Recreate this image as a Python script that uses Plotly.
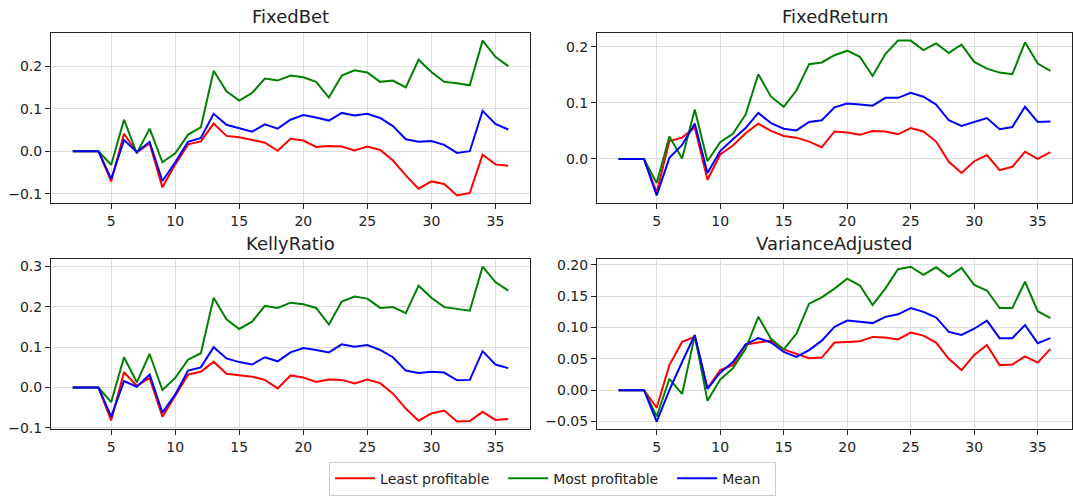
import plotly.graph_objects as go

x = list(range(2, 37))

titles = ["FixedBet", "FixedReturn", "KellyRatio", "VarianceAdjusted"]

fixedbet_least = [0, 0, 0, -0.071, 0.041, -0.003, 0.018, -0.085, -0.031, 0.016, 0.023, 0.065, 0.036, 0.033,
                  0.027, 0.020, 0.001, 0.029, 0.025, 0.010, 0.012, 0.011, 0.002, 0.011, 0.003, -0.022, -0.057,
                  -0.088, -0.071, -0.077, -0.104, -0.098, -0.008, -0.031, -0.034]
fixedbet_most = [0, 0, 0, -0.032, 0.074, -0.005, 0.053, -0.026, -0.005, 0.039, 0.056, 0.189, 0.141, 0.119,
                 0.137, 0.171, 0.166, 0.178, 0.174, 0.163, 0.126, 0.178, 0.190, 0.185, 0.163, 0.166, 0.150,
                 0.215, 0.186, 0.163, 0.160, 0.155, 0.260, 0.222, 0.200]
fixedbet_mean = [0, 0, 0, -0.065, 0.026, -0.002, 0.022, -0.070, -0.026, 0.022, 0.031, 0.088, 0.062, 0.054,
                 0.046, 0.063, 0.053, 0.074, 0.085, 0.079, 0.072, 0.090, 0.084, 0.088, 0.078, 0.059, 0.028,
                 0.022, 0.024, 0.015, -0.004, 0.000, 0.095, 0.064, 0.051]

fixedreturn_least = [0, 0, 0, -0.060, 0.032, 0.038, 0.056, -0.037, 0.008, 0.024, 0.046, 0.063, 0.050, 0.041,
                     0.038, 0.031, 0.021, 0.049, 0.047, 0.043, 0.050, 0.049, 0.044, 0.055, 0.049, 0.031, -0.005,
                     -0.025, -0.004, 0.007, -0.020, -0.014, 0.013, 0.000, 0.012]
fixedreturn_most = [0, 0, 0, -0.043, 0.040, 0.001, 0.088, -0.004, 0.030, 0.045, 0.079, 0.151, 0.111, 0.093,
                    0.122, 0.169, 0.172, 0.185, 0.193, 0.182, 0.148, 0.187, 0.211, 0.211, 0.194, 0.206, 0.189,
                    0.204, 0.173, 0.161, 0.154, 0.151, 0.208, 0.170, 0.157]
fixedreturn_mean = [0, 0, 0, -0.065, 0.002, 0.025, 0.063, -0.025, 0.014, 0.035, 0.055, 0.082, 0.064, 0.054,
                    0.051, 0.066, 0.069, 0.092, 0.099, 0.097, 0.095, 0.109, 0.109, 0.118, 0.111, 0.097, 0.069,
                    0.059, 0.066, 0.073, 0.053, 0.057, 0.093, 0.066, 0.067]

kelly_least = [0, 0, 0, -0.081, 0.038, 0.004, 0.024, -0.072, -0.020, 0.032, 0.039, 0.064, 0.034, 0.030,
               0.027, 0.019, -0.002, 0.030, 0.025, 0.014, 0.020, 0.019, 0.010, 0.020, 0.011, -0.015, -0.052,
               -0.082, -0.064, -0.057, -0.084, -0.083, -0.060, -0.080, -0.078]
kelly_most = [0, 0, 0, -0.036, 0.075, 0.013, 0.083, -0.006, 0.024, 0.069, 0.085, 0.222, 0.169, 0.145,
              0.163, 0.202, 0.197, 0.210, 0.206, 0.197, 0.156, 0.213, 0.225, 0.220, 0.197, 0.199, 0.184,
              0.252, 0.222, 0.199, 0.195, 0.190, 0.299, 0.261, 0.240]
kelly_mean = [0, 0, 0, -0.072, 0.016, 0.002, 0.032, -0.062, -0.017, 0.042, 0.050, 0.100, 0.072, 0.063,
              0.057, 0.075, 0.065, 0.087, 0.098, 0.093, 0.087, 0.107, 0.101, 0.105, 0.093, 0.075, 0.042,
              0.036, 0.039, 0.037, 0.018, 0.019, 0.090, 0.057, 0.048]

variance_least = [0, 0, 0, -0.028, 0.040, 0.077, 0.085, 0.003, 0.032, 0.040, 0.073, 0.076, 0.079, 0.065,
                  0.058, 0.051, 0.052, 0.076, 0.077, 0.078, 0.085, 0.084, 0.081, 0.092, 0.087, 0.076, 0.050,
                  0.032, 0.056, 0.072, 0.040, 0.041, 0.054, 0.044, 0.066]
variance_most = [0, 0, 0, -0.042, 0.018, -0.006, 0.087, -0.017, 0.017, 0.035, 0.066, 0.117, 0.082, 0.065,
                 0.090, 0.138, 0.148, 0.162, 0.178, 0.167, 0.136, 0.162, 0.193, 0.197, 0.184, 0.196, 0.181,
                 0.195, 0.168, 0.159, 0.131, 0.131, 0.173, 0.126, 0.115]
variance_mean = [0, 0, 0, -0.050, 0.000, 0.045, 0.088, 0.002, 0.028, 0.045, 0.073, 0.083, 0.076, 0.061,
                 0.053, 0.064, 0.079, 0.101, 0.111, 0.109, 0.107, 0.117, 0.121, 0.131, 0.125, 0.116, 0.093,
                 0.088, 0.098, 0.111, 0.083, 0.083, 0.104, 0.075, 0.083]

series_names = ["Least profitable", "Most profitable", "Mean"]
series_colors = ["red", "green", "blue"]

panels = [
    (fixedbet_least, fixedbet_most, fixedbet_mean),
    (fixedreturn_least, fixedreturn_most, fixedreturn_mean),
    (kelly_least, kelly_most, kelly_mean),
    (variance_least, variance_most, variance_mean),
]

W, H = 1073, 496
# panel pixel boxes: (left, right, top, bottom)
boxes = [(51, 530, 33, 204), (597, 1072, 33, 204), (51, 530, 260, 431), (597, 1072, 260, 431)]
ydticks = [0.1, 0.1, 0.1, 0.05]
yfmts = [".1f", ".1f", ".1f", ".2f"]

FONT = "DejaVu Sans"
fig = go.Figure()
layout = dict(
    template="none",
    width=W, height=H,
    margin=dict(l=0, r=0, t=0, b=0),
    paper_bgcolor="white", plot_bgcolor="white",
    font=dict(family=FONT, size=13, color="#222"),
    showlegend=True,
    legend=dict(orientation="h", x=0.515, xanchor="center", y=0.031, yanchor="middle",
                bordercolor="#cccccc", borderwidth=1, font=dict(size=14, color="#222"),
                itemwidth=40, tracegroupgap=0),
)
annotations = []
xmin, xmax = min(x), max(x)
xm = (xmax - xmin) * 0.05
for i, (data, box) in enumerate(zip(panels, boxes)):
    idx = "" if i == 0 else str(i + 1)
    l, r, t, b = box
    allv = [v for s in data for v in s]
    lo, hi = min(allv), max(allv)
    m = (hi - lo) * 0.05
    common = dict(showline=True, linecolor="#222", linewidth=1, mirror=True, automargin=False,
                  showgrid=True, gridcolor="#dddddd", gridwidth=1, zeroline=False,
                  ticks="outside", ticklen=5, tickcolor="#222", tickfont=dict(size=14, color="#222"))
    layout["xaxis" + idx] = dict(domain=[l / W, r / W], anchor="y" + idx,
                                 range=[xmin - xm, xmax + xm], tick0=0, dtick=5, **common)
    layout["yaxis" + idx] = dict(domain=[1 - b / H, 1 - t / H], anchor="x" + idx,
                                 range=[lo - m, hi + m], tick0=0, dtick=ydticks[i], tickformat=yfmts[i],
                                 **common)
    for j, s in enumerate(data):
        fig.add_trace(go.Scatter(x=x, y=s, mode="lines", name=series_names[j] + "  ",
                                 line=dict(color=series_colors[j], width=2),
                                 xaxis="x" + idx, yaxis="y" + idx, showlegend=(i == 0)))
    annotations.append(dict(text=titles[i], x=(l + r) / 2 / W, y=1 - (t - 16) / H,
                            xref="paper", yref="paper", showarrow=False,
                            font=dict(size=18, color="#222"), xanchor="center", yanchor="middle"))
layout["annotations"] = annotations
fig.update_layout(**layout)
fig.write_html("out.html", config={"displayModeBar": False},
               post_script="document.body.style.margin='0';document.body.style.overflow='hidden';")
